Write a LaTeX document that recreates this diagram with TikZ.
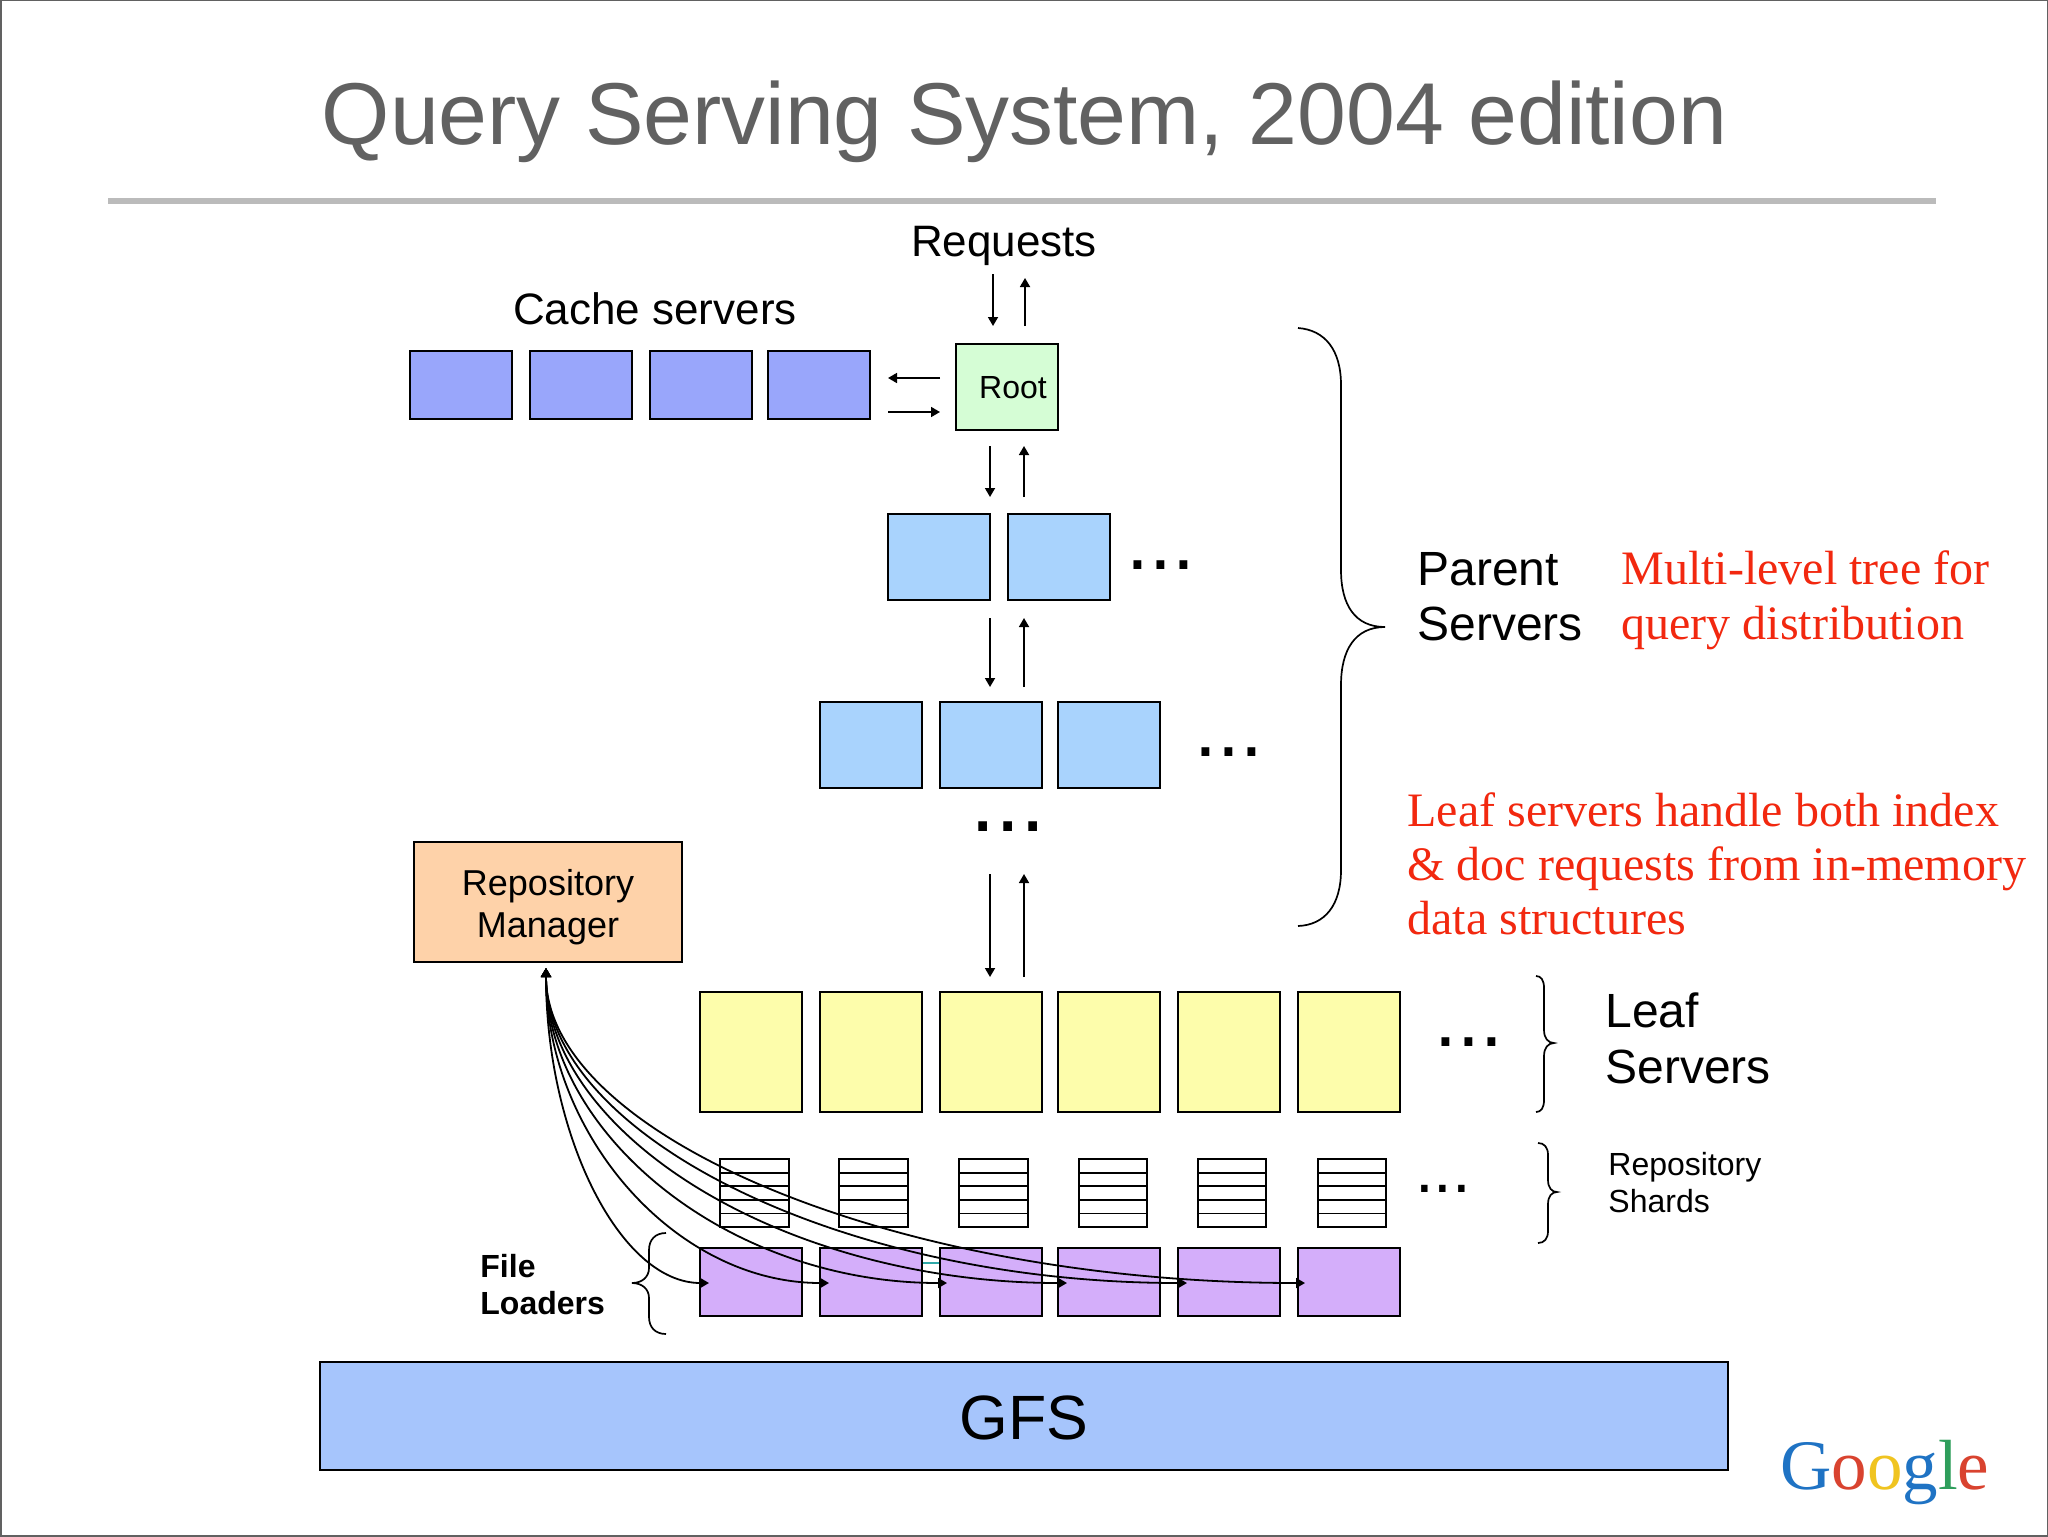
\documentclass[tikz,border=0pt]{standalone}
\usepackage{fontspec}
\setmainfont{Liberation Sans}
\newfontfamily\serifred{Liberation Serif}
\usetikzlibrary{arrows.meta,calc}
\definecolor{titlegray}{HTML}{616161}
\definecolor{rulegray}{HTML}{BBBBBB}
\definecolor{cachefill}{HTML}{99A6FB}
\definecolor{rootfill}{HTML}{D5FDD5}
\definecolor{parentfill}{HTML}{A9D3FD}
\definecolor{leaffill}{HTML}{FDFDAB}
\definecolor{loaderfill}{HTML}{D4AEFA}
\definecolor{gfsfill}{HTML}{A6C5FC}
\definecolor{repofill}{HTML}{FED2A9}
\definecolor{redtext}{HTML}{F2280F}
\definecolor{gblue}{HTML}{1F73C4}
\definecolor{gred}{HTML}{D9432F}
\definecolor{gyellow}{HTML}{F0C420}
\definecolor{ggreen}{HTML}{2E9E5B}
\definecolor{tealbit}{HTML}{2FA8A8}
\tikzset{
  box/.style={draw=black,line width=0.9pt,inner sep=0pt,outer sep=0pt},
  conn/.style={line width=0.85pt,-{Triangle[length=4.5pt,width=5pt]}},
  bothconn/.style={line width=0.9pt,{Triangle[length=4.5pt,width=5pt]}-{Triangle[length=4.5pt,width=5pt]}},
  bracestroke/.style={line width=0.85pt},
  lab/.style={anchor=base,inner sep=0pt,text=black},
  labl/.style={anchor=base west,inner sep=0pt,text=black},
  redl/.style={anchor=base west,inner sep=0pt,text=redtext,font=\serifred\fontsize{24}{24}\selectfont},
  dots/.style={anchor=base,inner sep=0pt,text=black},
}
\newcommand{\bx}[6]{\node[box,fill=#6,minimum width={(#4-#2)*0.5pt},minimum height={(#5-#3)*0.5pt}] (#1) at ({(#2+#4)/2},{(#3+#5)/2}) {};}
\newcommand{\fs}[1]{\fontsize{#1}{#1}\selectfont}
\begin{document}
\begin{tikzpicture}[x=0.5pt,y=-0.5pt]
\useasboundingbox (0,0) rectangle (2048,1536);
\fill[white] (0,0) rectangle (2048,1536);
\draw[draw=titlegray,line width=1.5pt] (0,0) rectangle (2048,1536);

\node[lab,text=titlegray,font=\fs{43.9}] (title) at (1024.5,144) {Query Serving System, 2004 edition};
\coordinate (rulea) at (108,201);
\coordinate (ruleb) at (1936,201);
\draw[rulegray,line width=3pt] (rulea) -- (ruleb);

% cache servers
\bx{c1}{410}{351}{512}{419}{cachefill}
\bx{c2}{530}{351}{632}{419}{cachefill}
\bx{c3}{650}{351}{752}{419}{cachefill}
\bx{c4}{768}{351}{870}{419}{cachefill}
\bx{root}{956}{344}{1058}{430}{rootfill}
\node[lab,font=\fs{16}] (roott) at (1013,398) {Root};
\node[lab,font=\fs{22}] (req) at (1004,256) {Requests};
\node[lab,font=\fs{22}] (cachet) at (655,324) {Cache servers};

% parents
\bx{p1}{888}{514}{990}{600}{parentfill}
\bx{p2}{1008}{514}{1110}{600}{parentfill}
\bx{q1}{820}{702}{922}{788}{parentfill}
\bx{q2}{940}{702}{1042}{788}{parentfill}
\bx{q3}{1058}{702}{1160}{788}{parentfill}

% repository manager
\node[box,fill=repofill,minimum width=134pt,minimum height=60pt] (rm) at (548,902) {};
\node[lab,font=\fs{18}] (rmt1) at (548,895) {Repository};
\node[lab,font=\fs{18}] (rmt2) at (548,937) {Manager};

% leaves
\bx{l1}{700}{992}{802}{1112}{leaffill}
\bx{l2}{820}{992}{922}{1112}{leaffill}
\bx{l3}{940}{992}{1042}{1112}{leaffill}
\bx{l4}{1058}{992}{1160}{1112}{leaffill}
\bx{l5}{1178}{992}{1280}{1112}{leaffill}
\bx{l6}{1298}{992}{1400}{1112}{leaffill}

% shards
\foreach \n/\xa/\xb in {s1/720/789,s2/839/908,s3/959/1028,s4/1079/1147,s5/1198/1266,s6/1318/1386}{
  \bx{\n}{\xa}{1159}{\xb}{1227}{white}
  \foreach \k in {1,2,3,4}{
    \draw[line width=0.9pt] ($(\n.north west)!\k/5!(\n.south west)$) -- ($(\n.north east)!\k/5!(\n.south east)$);
  }
}

% loaders
\bx{f1}{700}{1248}{802}{1316}{loaderfill}
\bx{f2}{820}{1248}{922}{1316}{loaderfill}
\bx{f3}{940}{1248}{1042}{1316}{loaderfill}
\bx{f4}{1058}{1248}{1160}{1316}{loaderfill}
\bx{f5}{1178}{1248}{1280}{1316}{loaderfill}
\bx{f6}{1298}{1248}{1400}{1316}{loaderfill}
\draw[tealbit,line width=0.8pt] ($(f2.east)+(1,-19)$) -- ($(f3.west)+(-1,-19)$);

% GFS
\bx{gfs}{320}{1362}{1728}{1470}{gfsfill}
\node[lab,font=\fs{31.3}] (gfst) at (1024,1439) {GFS};

% short arrows
\coordinate (ra) at (993,274); \coordinate (rb) at (993,326);
\coordinate (rc) at (1025,326); \coordinate (rd) at (1025,278);
\draw[conn] (ra) -- (rb);
\draw[conn] (rc) -- (rd);
\coordinate (ca) at (940,378); \coordinate (cb) at (888,378);
\coordinate (cc) at (888,412); \coordinate (cd) at (940,412);
\draw[conn] (ca) -- (cb);
\draw[conn] (cc) -- (cd);
\coordinate (pa) at (990,446); \coordinate (pb) at (990,497);
\coordinate (pc) at (1024,497); \coordinate (pd) at (1024,446);
\draw[conn] (pa) -- (pb);
\draw[conn] (pc) -- (pd);
\coordinate (qa) at (990,618); \coordinate (qb) at (990,687);
\coordinate (qc) at (1024,687); \coordinate (qd) at (1024,618);
\draw[conn] (qa) -- (qb);
\draw[conn] (qc) -- (qd);
\coordinate (la) at (990,874); \coordinate (lb) at (990,977);
\coordinate (lc) at (1024,977); \coordinate (ld) at (1024,874);
\draw[conn] (la) -- (lb);
\draw[conn] (lc) -- (ld);

% dots
\node[dots,font=\fs{41}] (d1) at (1161,569) {...};
\node[dots,font=\fs{41}] (d2) at (1229,756) {...};
\node[dots,font=\fs{45.5}] (d3) at (1008,831) {...};
\node[dots,font=\fs{41}] (d4) at (1469,1046) {...};
\node[dots,font=\fs{33.6}] (d5) at (1443,1192.5) {...};

% loader curves
\coordinate (rmtip) at (546,968);
\foreach \n/\ex/\b in {1/709/90,2/829/155,3/947/220,4/1067/285,5/1187/350,6/1305/415}{
  \coordinate (lt\n) at (\ex,1283);
  \draw[bothconn] (rmtip) .. controls +(0,165) and +(-\b,0) .. (lt\n);
}

% braces
\coordinate (ba1) at (1298,328); \coordinate (ba2) at (1385,627); \coordinate (ba3) at (1298,926);
\draw[bracestroke] (ba1) .. controls (1325,330) and (1341,350) .. (1341,385)
  -- (1341,570) .. controls (1341,605) and (1355,627) .. (ba2)
  .. controls (1355,627) and (1341,650) .. (1341,685)
  -- (1341,870) .. controls (1341,905) and (1325,925) .. (ba3);
\coordinate (bb1) at (1536,976); \coordinate (bb2) at (1554,1043); \coordinate (bb3) at (1536,1112);
\draw[bracestroke] (bb1) .. controls (1541,976) and (1544,980) .. (1544,988)
  -- (1544,1030) .. controls (1544,1038) and (1548,1043) .. (bb2)
  .. controls (1548,1043) and (1544,1048) .. (1544,1056)
  -- (1544,1100) .. controls (1544,1108) and (1541,1112) .. (bb3);
\coordinate (bc1) at (1538,1143); \coordinate (bc2) at (1557,1192); \coordinate (bc3) at (1538,1243);
\draw[bracestroke] (bc1) .. controls (1544,1143) and (1548,1147) .. (1548,1155)
  -- (1548,1180) .. controls (1548,1188) and (1552,1192) .. (bc2)
  .. controls (1552,1192) and (1548,1196) .. (1548,1204)
  -- (1548,1231) .. controls (1548,1239) and (1544,1243) .. (bc3);
\coordinate (bd1) at (666,1233); \coordinate (bd2) at (632,1283); \coordinate (bd3) at (666,1334);
\draw[bracestroke] (bd1) .. controls (655,1233) and (649,1240) .. (649,1250)
  -- (649,1268) .. controls (649,1277) and (642,1283) .. (bd2)
  .. controls (642,1283) and (649,1289) .. (649,1298)
  -- (649,1317) .. controls (649,1327) and (655,1334) .. (bd3);

% labels
\node[labl,font=\fs{24}] (pt1) at (1417,585) {Parent};
\node[labl,font=\fs{24}] (pt2) at (1417,640) {Servers};
\node[labl,font=\fs{24}] (lt1x) at (1605,1027) {Leaf};
\node[labl,font=\fs{24}] (lt2x) at (1605,1083) {Servers};
\node[labl,font=\fs{16}] (st1) at (1608,1175.5) {Repository};
\node[labl,font=\fs{16}] (st2) at (1608,1212) {Shards};
\node[labl,font=\bfseries\fs{16}] (ft1) at (480,1277) {File};
\node[labl,font=\bfseries\fs{16}] (ft2) at (480,1314) {Loaders};
\node[redl] (m1) at (1621,584) {Multi-level tree for};
\node[redl] (m2) at (1621,639) {query distribution};
\node[redl] (n1) at (1407,826) {Leaf servers handle both index};
\node[redl] (n2) at (1407,880) {\& doc requests from in-memory};
\node[redl] (n3) at (1407,934) {data structures};

% logo
\node[labl,font=\serifred\fs{35.5}] (logo) at (1780,1489) {\textcolor{gblue}{G}\textcolor{gred}{o}\textcolor{gyellow}{o}\textcolor{gblue}{g}\textcolor{ggreen}{l}\textcolor{gred}{e}};
\end{tikzpicture}
\end{document}
